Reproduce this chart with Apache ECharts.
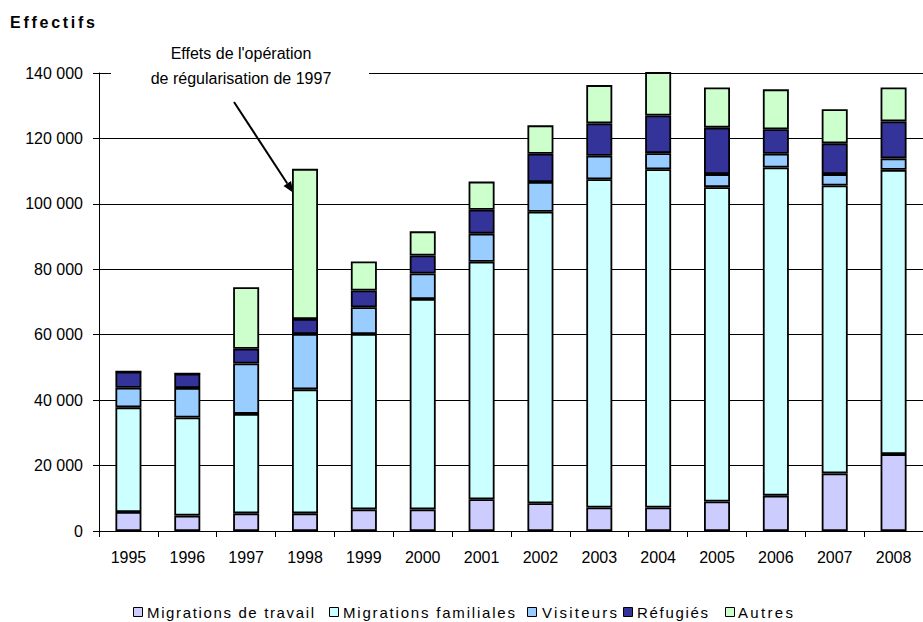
<!DOCTYPE html>
<html>
<head>
<meta charset="utf-8">
<script src="https://cdn.jsdelivr.net/npm/echarts@6/dist/echarts.min.js"></script>
<style>
  html, body { margin: 0; padding: 0; background: #fff; }
  #chart { width: 923px; height: 622px; }
</style>
</head>
<body>
<div id="chart"></div>
<script>
// Admissions par motif, 1995-2008 (effectifs)
const years = ['1995', '1996', '1997', '1998', '1999', '2000', '2001', '2002', '2003', '2004', '2005', '2006', '2007', '2008'];
const travail    = [5800, 4700, 5400, 5400, 6600, 6600, 9700, 8500, 7200, 7200, 9000, 10800, 17600, 23500];
const familiales = [32000, 30000, 30400, 37900, 53600, 64300, 72600, 89100, 100300, 103400, 96100, 100300, 88000, 86900];
const visiteurs  = [6000, 9000, 15400, 16900, 8200, 7800, 8600, 9100, 7200, 4900, 4000, 4200, 3500, 3500];
const refugies   = [4900, 4400, 4500, 4600, 5100, 5500, 7300, 8600, 9900, 11500, 14200, 7500, 9400, 11300];
const autres     = [0, 0, 18800, 45900, 8900, 7400, 8600, 8700, 11700, 13900, 12300, 12200, 10400, 10400];

const seriesDefs = [
  { name: 'Migrations de travail', data: travail, color: '#CCCCFF' },
  { name: 'Migrations familiales', data: familiales, color: '#CCFFFF' },
  { name: 'Visiteurs', data: visiteurs, color: '#99CCFF' },
  { name: 'Réfugiés', data: refugies, color: '#333399' },
  { name: 'Autres', data: autres, color: '#CCFFCC' }
];

const FONT = '"Liberation Sans", Arial, sans-serif';

function fmtThousands(v) {
  return String(v).replace(/\B(?=(\d{3})+(?!\d))/g, ' ');
}

// legend row along the bottom: swatch x, label x, label width
const legendSlots = [
  { sx: 133, tx: 147, w: 167 },
  { sx: 329, tx: 343, w: 172 },
  { sx: 527, tx: 542, w: 75 },
  { sx: 623, tx: 637, w: 71 },
  { sx: 725, tx: 738, w: 55 }
];
const LEGEND_Y = 612;

const legendGraphics = [];
seriesDefs.forEach((s, i) => {
  const slot = legendSlots[i];
  legendGraphics.push({
    type: 'rect', z: 100,
    shape: { x: slot.sx + 0.5, y: LEGEND_Y - 4.5, width: 9, height: 9 },
    style: { fill: s.color, stroke: '#000', lineWidth: 1 }
  });
  legendGraphics.push({
    type: 'text', z: 100,
    x: slot.tx, y: LEGEND_Y,
    style: { text: s.name, font: '15px ' + FONT, fill: '#000', align: 'left', verticalAlign: 'middle' }
  });
});

// arrow pointing at the 1998 bar
const arrowStart = [234, 102];
const arrowTip = [293.3, 192.7];
const dx = arrowTip[0] - arrowStart[0], dy = arrowTip[1] - arrowStart[1];
const len = Math.sqrt(dx * dx + dy * dy);
const ux = dx / len, uy = dy / len;
const headLen = 11, headHalf = 4.5;
const base = [arrowTip[0] - ux * headLen, arrowTip[1] - uy * headLen];

const chart = echarts.init(document.getElementById('chart'), null, { renderer: 'svg' });
chart.setOption({
  animation: false,
  backgroundColor: '#fff',
  textStyle: { fontFamily: FONT, color: '#000' },
  title: {
    text: 'Effectifs',
    left: 5, top: 9,
    textStyle: { fontFamily: FONT, fontSize: 16, fontWeight: 'bold', color: '#000' }
  },
  grid: { left: 99, top: 73, height: 458, width: 832 },
  xAxis: {
    type: 'category',
    data: years,
    axisLine: { lineStyle: { color: '#000', width: 1 } },
    axisTick: { show: true, length: 6, lineStyle: { color: '#000' } },
    axisLabel: { fontFamily: FONT, fontSize: 16, color: '#000', margin: 18 }
  },
  yAxis: {
    type: 'value',
    min: 0, max: 140000, interval: 20000,
    axisLine: { show: true, lineStyle: { color: '#000', width: 1 } },
    axisTick: { show: true, length: 6, lineStyle: { color: '#000' } },
    axisLabel: { fontFamily: FONT, fontSize: 16, color: '#000', margin: 16, formatter: fmtThousands },
    splitLine: { show: true, lineStyle: { color: '#000', width: 1 } }
  },
  series: seriesDefs.map(s => ({
    name: s.name,
    type: 'bar',
    stack: 'total',
    barWidth: 26,
    data: s.data,
    itemStyle: { color: s.color, borderColor: '#000', borderWidth: 1.8 }
  })),
  graphic: [
    {
      type: 'rect', z: 100,
      shape: { x: 111, y: 38, width: 258, height: 52 },
      style: { fill: '#fff' }
    },
    {
      type: 'text', z: 101,
      x: 241, y: 41,
      style: {
        text: "Effets de l'opération\nde régularisation de 1997",
        font: '16px ' + FONT,
        fill: '#000',
        align: 'center',
        verticalAlign: 'top',
        lineHeight: 25
      }
    },
    {
      type: 'line', z: 101,
      shape: { x1: arrowStart[0], y1: arrowStart[1], x2: base[0], y2: base[1] },
      style: { stroke: '#000', lineWidth: 2 }
    },
    {
      type: 'polygon', z: 101,
      shape: {
        points: [
          arrowTip,
          [base[0] - uy * headHalf, base[1] + ux * headHalf],
          [base[0] + uy * headHalf, base[1] - ux * headHalf]
        ]
      },
      style: { fill: '#000' }
    }
  ].concat(legendGraphics)
});

// spread the lettering of the heading and legend labels over their set widths
const spreadWidths = { 'Effectifs': 85 };
seriesDefs.forEach((s, i) => { spreadWidths[s.name] = legendSlots[i].w; });
function applySpread() {
  chart.getDom().querySelectorAll('text').forEach(t => {
    const w = spreadWidths[t.textContent];
    if (w) {
      t.setAttribute('textLength', w);
      t.setAttribute('lengthAdjust', 'spacing');
    }
  });
}
applySpread();
chart.on('finished', applySpread);
</script>
</body>
</html>
